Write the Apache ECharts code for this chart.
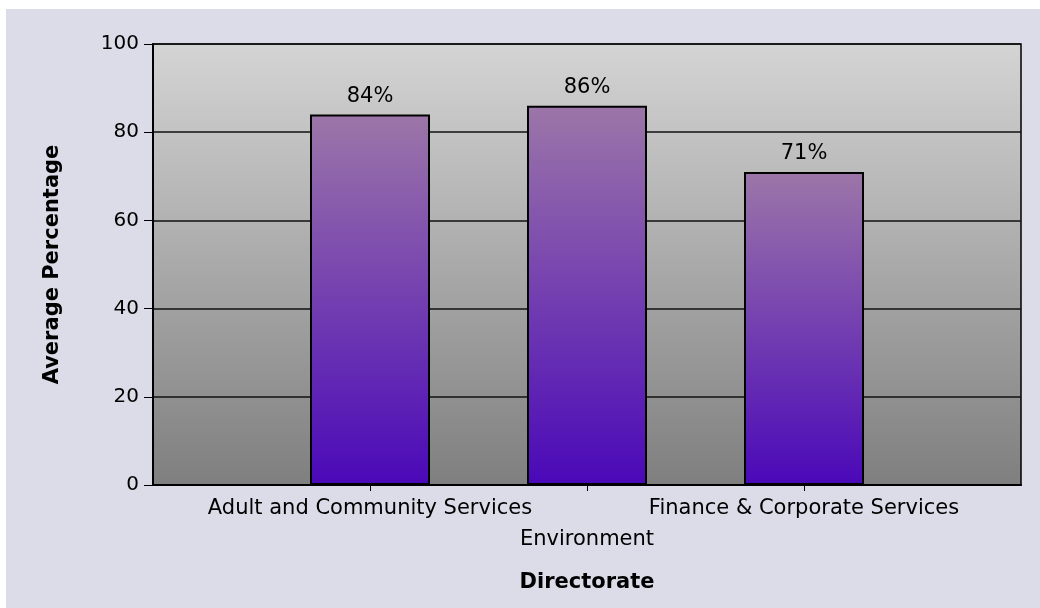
<!DOCTYPE html>
<html>
<head>
<meta charset="utf-8">
<script src="https://cdn.jsdelivr.net/npm/echarts@6/dist/echarts.min.js"></script>
<style>
  html, body { margin: 0; padding: 0; background: #ffffff; width: 1040px; height: 608px; overflow: hidden; }
  #chart { position: absolute; left: 6px; top: 9px; width: 1034px; height: 599px; background: #dcdce8; }
</style>
</head>
<body>
<div id="chart"></div>
<script>
// Average percentage per directorate
const categories = ['Adult and Community Services', 'Environment', 'Finance & Corporate Services'];
const values = [84, 86, 71];
const yTicks = [0, 20, 40, 60, 80, 100];

// One empty slot at each end so bars sit a full step in from the frame
const axisCats = [''].concat(categories, ['']);
const axisVals = [null].concat(values, [null]);

const FONT = 'DejaVu Sans';
const chart = echarts.init(document.getElementById('chart'), null, { renderer: 'canvas' });

chart.setOption({
  animation: false,
  grid: {
    left: 147, top: 35, right: 19, bottom: 123,
    show: true,
    borderColor: '#000', borderWidth: 1.5,
    backgroundColor: new echarts.graphic.LinearGradient(0, 0, 0, 1, [
      { offset: 0, color: '#d4d4d4' },
      { offset: 1, color: '#7f7f7f' }
    ])
  },
  xAxis: {
    type: 'category',
    data: axisCats,
    boundaryGap: false,
    name: 'Directorate',
    nameLocation: 'middle',
    nameGap: 87,
    nameTextStyle: { fontFamily: FONT, fontSize: 21, fontWeight: 'bold', color: '#000' },
    axisLine: { lineStyle: { color: '#000', width: 2 } },
    axisTick: {
      length: 6, lineStyle: { color: '#000', width: 1 },
      interval: (i) => i > 0 && i < axisCats.length - 1
    },
    axisLabel: {
      interval: 0,
      margin: 8,
      fontFamily: FONT, fontSize: 21, color: '#000',
      formatter: (v, i) => (i % 2 === 0 ? '\n' + v : v),
      lineHeight: 31
    },
    splitLine: { show: false }
  },
  yAxis: {
    type: 'value',
    min: yTicks[0], max: yTicks[yTicks.length - 1], interval: 20,
    name: 'Average Percentage',
    nameLocation: 'middle',
    nameRotate: 90,
    nameGap: 90,
    nameTextStyle: { fontFamily: FONT, fontSize: 21, fontWeight: 'bold', color: '#000' },
    axisLine: { show: true, lineStyle: { color: '#000', width: 2 } },
    axisTick: { show: true, length: 9, lineStyle: { color: '#000', width: 1 } },
    axisLabel: { fontFamily: FONT, fontSize: 20, color: '#000', margin: 14 },
    splitLine: { show: true, lineStyle: { color: '#111', width: 1.5 } }
  },
  series: [{
    type: 'bar',
    data: axisVals,
    barWidth: 120,
    itemStyle: {
      borderColor: '#000', borderWidth: 2,
      color: new echarts.graphic.LinearGradient(0, 0, 0, 1, [
        { offset: 0, color: '#9c76a8' },
        { offset: 1, color: '#4a08b8' }
      ])
    },
    label: {
      show: true, position: 'top', distance: 8,
      fontFamily: FONT, fontSize: 21, color: '#000',
      formatter: (p) => p.value + '%'
    }
  }]
});
</script>
</body>
</html>
